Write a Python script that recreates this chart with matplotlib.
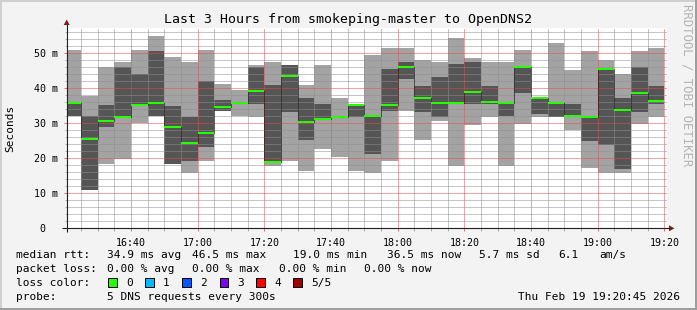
import matplotlib
matplotlib.use("Agg")
import matplotlib.pyplot as plt
from matplotlib.patches import Rectangle, Polygon
import numpy as np

# ---------------- data (ms) ----------------
# 5 pings per 5-minute step, sorted: p1 (min) .. p5 (max), p3 = median
ping1 = [32.0, 11.0, 18.5, 19.8, 30.2, 32.0, 18.5, 15.9, 19.3, 33.5, 32.1, 31.8,
         17.9, 19.3, 16.4, 22.7, 20.4, 16.4, 15.9, 19.3, 33.5, 25.2, 30.7, 17.9,
         29.5, 31.8, 17.9, 29.9, 31.9, 31.8, 28.1, 17.3, 15.9, 15.9, 29.9, 31.8]
ping2 = [32.2, 11.0, 28.8, 31.8, 35.2, 32.2, 18.5, 19.3, 23.2, 33.5, 35.7, 35.5,
         19.0, 33.3, 25.2, 31.2, 31.8, 31.9, 21.3, 33.5, 42.7, 33.3, 31.9, 35.5,
         35.6, 35.6, 32.2, 38.7, 32.7, 31.8, 31.8, 24.8, 23.8, 17.0, 33.3, 35.6]
median = [35.9, 25.4, 30.7, 31.8, 35.2, 35.8, 29.0, 24.5, 27.3, 34.7, 35.8, 39.2,
          19.0, 43.5, 30.5, 31.2, 31.9, 35.2, 32.2, 35.2, 46.2, 37.3, 35.8, 35.8,
          39.0, 36.1, 35.8, 46.1, 37.3, 35.8, 32.2, 31.8, 45.5, 33.9, 38.7, 36.5]
ping4 = [36.0, 32.2, 35.2, 46.1, 44.0, 50.7, 35.0, 31.8, 42.1, 36.7, 35.9, 46.1,
         40.8, 46.7, 37.2, 35.5, 32.0, 35.2, 32.2, 45.5, 47.5, 40.7, 43.2, 46.9,
         47.5, 40.7, 35.9, 46.1, 37.3, 35.8, 35.5, 31.8, 45.5, 37.2, 46.1, 40.7]
ping5 = [51.0, 37.8, 46.1, 47.5, 51.0, 55.0, 49.0, 47.6, 51.0, 41.2, 39.5, 46.6,
         47.6, 46.7, 40.8, 46.7, 37.2, 35.4, 49.5, 51.6, 51.6, 48.1, 47.5, 54.3,
         48.7, 47.5, 47.5, 51.0, 37.6, 53.0, 45.2, 50.7, 48.1, 44.1, 50.7, 51.6]

step_minutes = 5
first_step = 16 * 60 + 20          # 16:20
view_start = 16 * 60 + 20.75       # 16:20:45
view_end = 19 * 60 + 20.75         # 19:20:45
y_max = 57.14

x_major = list(range(16 * 60 + 40, 19 * 60 + 21, 20))
x_labels = ["%02d:%02d" % (m // 60, m % 60) for m in x_major]
y_major = [0, 10, 20, 30, 40, 50]
y_labels = ["0  "] + ["%d m" % v for v in y_major[1:]]

title = "Last 3 Hours from smokeping-master to OpenDNS2"
loss_labels = ["0", "1", "2", "3", "4", "5/5"]
loss_colors = ["#26ff00", "#00b8ff", "#0059ff", "#7e00ff", "#ff0000", "#a10000"]

# ---------------- figure ----------------
W, H = 697, 310
MONO = "DejaVu Sans Mono"
plt.rcParams["font.family"] = [MONO]

fig = plt.figure(figsize=(W / 100, H / 100), dpi=100, facecolor="#f3f3f3")
px_l, px_r, px_t, px_b = 66.7, 667.0, 28.3, 228.3
ax = fig.add_axes([px_l / W, 1 - px_b / H, (px_r - px_l) / W, (px_b - px_t) / H])
ax.set_facecolor("white")
ax.set_xlim(view_start, view_end)
ax.set_ylim(0, y_max)

p1 = np.array(ping1); p2 = np.array(ping2); p3 = np.array(median)
p4 = np.array(ping4); p5 = np.array(ping5)
xs = first_step + step_minutes * np.arange(len(p3))

light = "#a3a3a3"
dark = "#555555"
kw = dict(width=step_minutes, align="edge", linewidth=0, antialiased=False, zorder=1)
ax.bar(xs, p2 - p1, bottom=p1, color=light, **kw)
ax.bar(xs, p4 - p2, bottom=p2, color=dark, **kw)
ax.bar(xs, p5 - p4, bottom=p4, color=light, **kw)

ax.vlines(xs[1:], p3[:-1], p3[1:], colors="#000000", linestyles=(0, (1, 1)),
          linewidth=0.72, zorder=3)
ax.hlines(p3, xs, xs + step_minutes, colors=loss_colors[0], linewidth=1.4, zorder=4,
          antialiased=False)

ax.set_xticks(x_major)
ax.set_xticklabels(x_labels)
ax.set_xticks(np.arange(first_step + 5, view_end, 5), minor=True)
ax.set_yticks(y_major)
ax.set_yticklabels(y_labels)
ax.set_yticks(np.arange(0, y_max, 2), minor=True)

ax.set_axisbelow(False)
ax.grid(which="minor", color=(0.56, 0.56, 0.56, 0.3), linestyle=(0, (1, 1)), linewidth=0.72)
ax.grid(which="major", color=(0.87, 0.31, 0.31, 0.42), linestyle=(0, (1, 1)), linewidth=0.72)
for gl in ax.get_xgridlines() + ax.get_ygridlines():
    gl.set_zorder(2)

ax.tick_params(which="both", direction="out", width=0.72, labelsize=7.2, colors="#000000")
ax.tick_params(which="major", length=2.5, color=(0.87, 0.31, 0.31, 0.8), pad=4.5)
ax.tick_params(which="minor", length=1.8, color=(0.56, 0.56, 0.56, 0.7))
ax.tick_params(axis="y", which="major", pad=3.5)
for sp in ax.spines.values():
    sp.set_visible(False)

# ---------------- overlay in pixel coordinates ----------------
ov = fig.add_axes([0, 0, 1, 1], zorder=10)
ov.set_xlim(0, W)
ov.set_ylim(H, 0)
ov.axis("off")
ov.patch.set_alpha(0)

# frame shading
ov.add_patch(Rectangle((0, 0), W, 2, color="#cfcfcf", lw=0))
ov.add_patch(Rectangle((0, 0), 2, H, color="#cfcfcf", lw=0))
ov.add_patch(Rectangle((0, H - 2), W, 2, color="#9e9e9e", lw=0))
ov.add_patch(Rectangle((W - 2, 0), 2, H, color="#9e9e9e", lw=0))

# axes lines with arrows
ov.plot([62, 670], [px_b, px_b], color="#1f1f1f", lw=0.8, solid_capstyle="butt")
ov.plot([px_l, px_l], [232, 24], color="#1f1f1f", lw=0.8, solid_capstyle="butt")
ov.add_patch(Polygon([(669, 225.3), (669, 231.3), (674.5, px_b)], closed=True,
                     color="#7f1f1f", lw=0))
ov.add_patch(Polygon([(px_l - 3, 25), (px_l + 3, 25), (px_l, 19.5)], closed=True,
                     color="#7f1f1f", lw=0))

# texts
ov.text(348.5, 19, title, ha="center", va="center", fontsize=9.5, color="#000000")
ov.text(10, 128.3, "Seconds", rotation=90, ha="center", va="center", fontsize=8)
ov.text(687.5, 4, "RRDTOOL / TOBI OETIKER", rotation=270, ha="center", va="top",
        fontsize=8.8, color="#b4b4b4")

fs = 8.0
row1, row2, row3, row4 = 255.0, 268.8, 282.6, 296.8
line1 = [(16, "median rtt:"), (107.1, "34.9 ms avg"), (192.4, "46.5 ms max"),
         (293.3, "19.0 ms min"), (386.7, "36.5 ms now"), (479.1, "5.7 ms sd"),
         (558.2, "6.1"), (599.6, "am/s")]
line2 = [(16, "packet loss:"), (107.1, "0.00 % avg"), (192.4, "0.00 % max"),
         (279.1, "0.00 % min"), (364.4, "0.00 % now")]
for x, s in line1:
    ov.text(x, row1, s, ha="left", va="center", fontsize=fs)
for x, s in line2:
    ov.text(x, row2, s, ha="left", va="center", fontsize=fs)
ov.text(16, row3, "loss color:", ha="left", va="center", fontsize=fs)
sq_x = [108, 145, 182, 219.5, 256.4, 293]
for x0, c, lab in zip(sq_x, loss_colors, loss_labels):
    ov.add_patch(Rectangle((x0, row3 - 4.5), 8.5, 8.5, facecolor=c, edgecolor="#000000", lw=0.7))
    ov.text(x0 + 18, row3, lab, ha="left", va="center", fontsize=fs)
ov.text(16, row4, "probe:", ha="left", va="center", fontsize=fs)
ov.text(107.1, row4, "5 DNS requests every 300s", ha="left", va="center", fontsize=fs)
ov.text(680, row4, "Thu Feb 19 19:20:45 2026", ha="right", va="center", fontsize=fs)

fig.savefig("out.png", dpi=100, facecolor=fig.get_facecolor())
